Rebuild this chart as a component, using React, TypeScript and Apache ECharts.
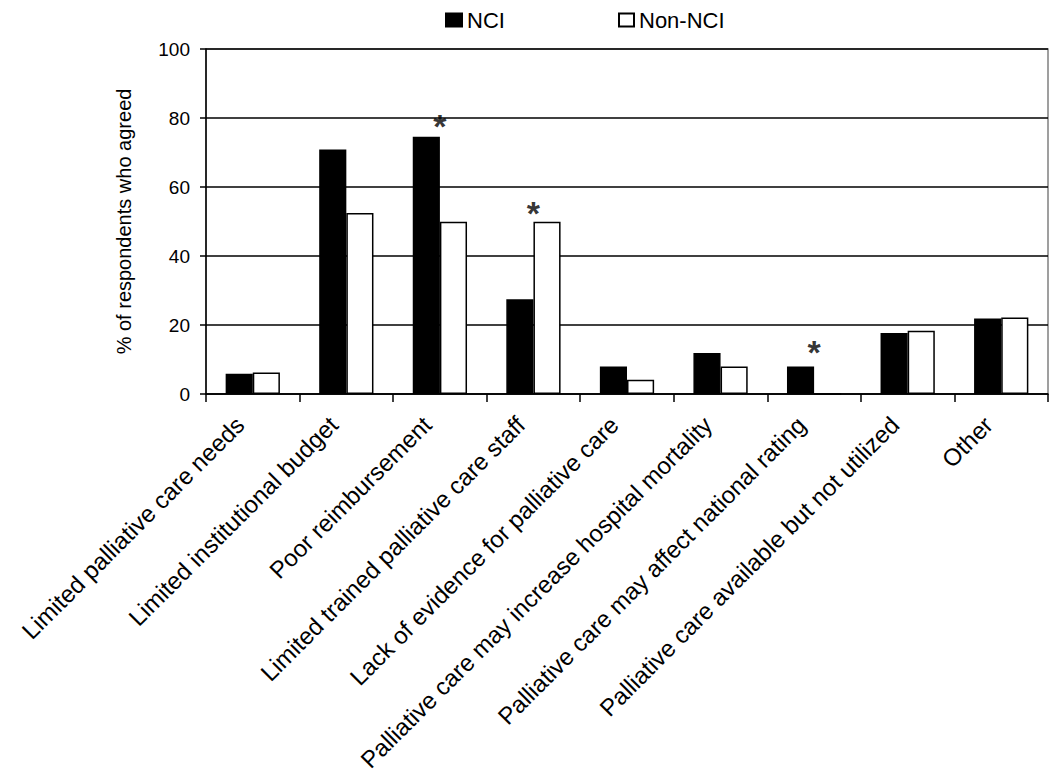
import React, { useEffect, useRef } from "react";
import * as echarts from "echarts";

const categories = [
  "Limited palliative care needs",
  "Limited institutional budget",
  "Poor reimbursement",
  "Limited trained palliative care staff",
  "Lack of evidence for palliative care",
  "Palliative care may increase hospital mortality",
  "Palliative care may affect national rating",
  "Palliative care available but not utilized",
  "Other",
];
const nciValues = [5.9, 70.9, 74.6, 27.5, 8.0, 11.9, 8.0, 17.7, 21.9];
const nonNciValues = [6.2, 52.5, 49.9, 49.9, 4.1, 8.0, 0, 18.3, 22.2];
// significance markers (asterisks) at these y-values, category centre
const starValues: (number | string)[] = ["-", "-", 79, 54, "-", "-", 13.5, "-", "-"];
const yMin = 0;
const yMax = 100;
const yInterval = 20;

const FONT = 'Arial, "Liberation Sans", sans-serif';

export default function App() {
  const ref = useRef<HTMLDivElement>(null);
  useEffect(() => {
    if (!ref.current) return;
    const chart = echarts.init(ref.current, undefined, { renderer: "svg" });
    const legendText = { fontSize: 22, color: "#000", fontFamily: FONT };
    chart.setOption({
      animation: false,
      backgroundColor: "#fff",
      textStyle: { fontFamily: FONT, color: "#000" },
      legend: [
        {
          data: [{ name: "NCI", icon: "rect" }],
          left: 445,
          top: 9,
          padding: 0,
          itemWidth: 16,
          itemHeight: 13,
          textStyle: legendText,
        },
        {
          data: [{ name: "Non-NCI", icon: "rect" }],
          left: 618,
          top: 9,
          padding: 0,
          itemWidth: 15,
          itemHeight: 13,
          textStyle: legendText,
        },
      ],
      grid: {
        left: 206,
        right: 2,
        top: 49,
        bottom: 381,
        show: true,
        borderColor: "#808080",
        borderWidth: 1.5,
        outerBoundsMode: "none",
      },
      xAxis: {
        type: "category",
        data: categories,
        axisLine: { show: true, lineStyle: { color: "#000", width: 1.5 } },
        axisTick: { show: true, length: 8, lineStyle: { color: "#000", width: 1.5 } },
        axisLabel: {
          rotate: 45,
          interval: 0,
          fontSize: 24,
          color: "#000",
          fontFamily: FONT,
          margin: 14,
          padding: [0, 18, 0, 0],
        },
      },
      yAxis: {
        type: "value",
        min: yMin,
        max: yMax,
        interval: yInterval,
        name: "% of respondents who agreed",
        nameLocation: "middle",
        nameGap: 72,
        nameTextStyle: { fontSize: 20, color: "#000", fontFamily: FONT },
        axisLine: { show: true, lineStyle: { color: "#000", width: 1.5 } },
        axisTick: { show: true, length: 6, lineStyle: { color: "#000", width: 1.5 } },
        axisLabel: { fontSize: 19, color: "#000", fontFamily: FONT, margin: 16 },
        splitLine: { show: true, lineStyle: { color: "#000", width: 1.5 } },
      },
      series: [
        {
          name: "NCI",
          type: "bar",
          data: nciValues,
          barGap: "0%",
          barCategoryGap: "42%",
          itemStyle: { color: "#000", borderColor: "#000", borderWidth: 1.5 },
        },
        {
          name: "Non-NCI",
          type: "bar",
          data: nonNciValues,
          barGap: "0%",
          barCategoryGap: "42%",
          itemStyle: { color: "#fff", borderColor: "#000", borderWidth: 1.5 },
        },
        {
          name: "sig",
          type: "scatter",
          data: starValues,
          symbolSize: 1,
          itemStyle: { color: "rgba(0,0,0,0)" },
          label: {
            show: true,
            position: "inside",
            formatter: "*",
            fontSize: 34,
            fontWeight: "bold",
            color: "#000",
            fontFamily: FONT,
            offset: [0, 5],
          },
          z: 5,
        },
      ],
    });
    return () => chart.dispose();
  }, []);
  return (
    <div
      ref={ref}
      style={{ position: "fixed", left: 0, top: 0, width: 1050, height: 775 }}
    />
  );
}
